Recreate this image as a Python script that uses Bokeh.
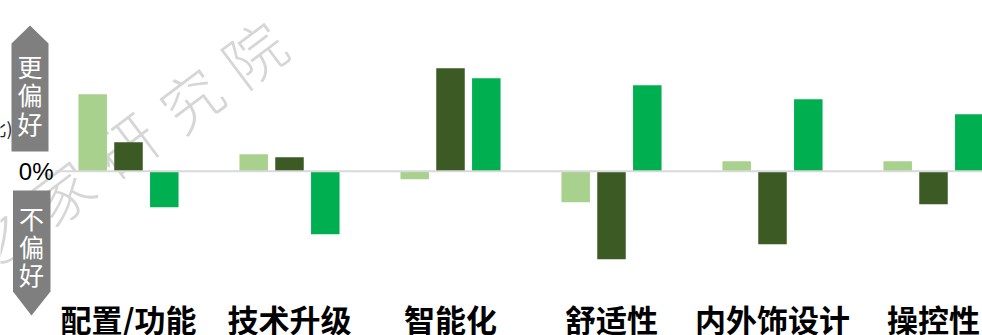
import math
from bokeh.plotting import figure
from bokeh.models import ColumnDataSource, Range1d
from bokeh.transform import dodge
from bokeh.core.properties import value
from bokeh.embed import file_html
from bokeh.resources import INLINE

# ---- data ----
categories = ["配置/功能", "技术升级", "智能化", "舒适性", "内外饰设计", "操控性"]
series_light = [7.7, 1.7, -0.8, -3.1, 1.0, 1.0]
series_dark = [2.9, 1.4, 10.3, -8.8, -7.3, -3.3]
series_bright = [-3.6, -6.3, 9.3, 8.6, 7.2, 5.7]
up_label = ["更", "偏", "好"]
down_label = ["不", "偏", "好"]
watermark = ["之", "家", "研", "究", "院"]

# ---- layout (canvas pixel mapping) ----
W, H = 982, 335
UX = 161.0          # px per category
X0 = 128.0          # px of first category centre
UY = 10.0           # px per value unit
ZERO_PY = 170.7     # px of zero line from top
XS = -X0 / UX
XE = XS + W / UX
YE = ZERO_PY / UY
YS = YE - H / UY


def X(px):
    return XS + px / UX


def Y(py):
    return YE - py / UY


p = figure(width=W, height=H, output_backend="svg", toolbar_location=None,
           x_range=Range1d(XS, XE), y_range=Range1d(YS, YE),
           x_axis_location=None, y_axis_location=None,
           min_border=0, outline_line_color=None,
           background_fill_color="white", border_fill_color="white")
p.grid.visible = False

# watermark (behind everything)
wm_px = [(-4, 236), (60, 190), (124, 143), (189, 97), (252, 51)]
p.text(x=[X(a) for a, b in wm_px], y=[Y(b) for a, b in wm_px], text=watermark,
       angle=math.radians(37), text_align="center", text_baseline="middle",
       text_color="#d6d6d6", text_font_size="60px",
       text_font=value("'Noto Sans CJK SC Light', 'Noto Sans CJK SC'"))

src = ColumnDataSource(dict(x=list(range(len(categories))), cat=categories,
                            light=series_light, dark=series_dark, bright=series_bright))
BW = 28.5 / UX
OFF = 35.8 / UX
p.vbar(x=dodge("x", -OFF, range=p.x_range), top="light", bottom=0, width=BW,
       source=src, fill_color="#A9D18E", line_color=None)
p.vbar(x="x", top="dark", bottom=0, width=BW,
       source=src, fill_color="#3B5A24", line_color=None)
p.vbar(x=dodge("x", OFF, range=p.x_range), top="bright", bottom=0, width=BW,
       source=src, fill_color="#00B050", line_color=None)

# zero line
p.segment(x0=[X(55)], y0=[0], x1=[X(982)], y1=[0], line_color="#d9d9d9", line_width=2)

# category labels
p.text(x="x", y=Y(318), text="cat", source=src, text_align="center",
       text_baseline="middle", text_font_size="31px", text_font_style="bold",
       text_color="black", text_font=value("Noto Sans CJK SC"))

# partial unit text behind arrow
p.text(x=[X(12)], y=[Y(127)], text=["(占比)"], text_align="right",
       text_baseline="middle", text_font_size="18px", text_color="#222222",
       text_font=value("Noto Sans CJK SC"))

# arrows
up_xs = [X(11), X(29.5), X(48), X(48), X(11)]
up_ys = [Y(43), Y(25), Y(43), Y(151), Y(151)]
p.patch(up_xs, up_ys, fill_color="#7f7f7f", line_color=None)
dn_xs = [X(12.5), X(50), X(50), X(31), X(12.5)]
dn_ys = [Y(190), Y(190), Y(291), Y(315), Y(291)]
p.patch(dn_xs, dn_ys, fill_color="#7f7f7f", line_color=None)

p.text(x=[X(29.5)] * 3, y=[Y(65), Y(93.5), Y(122)], text=up_label,
       text_align="center", text_baseline="middle", text_font_size="25px",
       text_color="white", text_font=value("Noto Sans CJK SC"))
p.text(x=[X(31)] * 3, y=[Y(217), Y(245), Y(273)], text=down_label,
       text_align="center", text_baseline="middle", text_font_size="25px",
       text_color="white", text_font=value("Noto Sans CJK SC"))

# 0% label
p.text(x=[X(53)], y=[0], text=["0%"], text_align="right", text_baseline="middle",
       text_font_size="24px", text_color="black",
       text_font=value("Liberation Sans"))

open("out.html", "w").write(file_html(p, INLINE))
